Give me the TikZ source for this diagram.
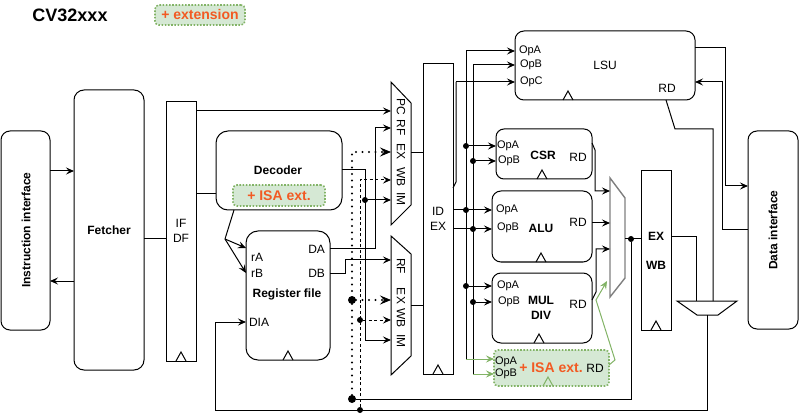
\documentclass[tikz,border=0pt]{standalone}
\usepackage{fontspec}
\setmainfont{Liberation Sans}
\usetikzlibrary{arrows.meta}
\definecolor{grn}{HTML}{82B366}
\definecolor{grnfill}{HTML}{D5E8D4}
\definecolor{org}{HTML}{F25A23}
\definecolor{gry}{HTML}{7F7F7F}
\begin{document}
\begin{tikzpicture}[x=1pt,y=-1pt,
  every node/.style={inner sep=0pt, outer sep=0pt},
  blk/.style={draw, line width=1pt, rounded corners=#1, anchor=north west},
  blk/.default=9pt,
  reg/.style={draw, line width=1pt, anchor=north west},
  extbox/.style={draw=grn, fill=grnfill, line width=1.6pt, dash pattern=on 1.6pt off 1.6pt, rounded corners=4pt, anchor=north west, text=org, font=\bfseries\fontsize{14}{16}\selectfont},
  lbl/.style={font=\fontsize{11}{13}\selectfont},
  lblm/.style={font=\fontsize{12}{15}\selectfont},
  blbl/.style={font=\bfseries\fontsize{12}{15}\selectfont},
  mlbl/.style={font=\fontsize{12}{14}\selectfont, rotate=-90},
  wire/.style={line width=1pt},
  arr/.style={wire, -{Stealth[length=8pt,width=7pt,inset=3pt]}},
  garr/.style={arr, draw=grn},
  bigarr/.style={-{Stealth[length=11pt,width=9pt,inset=4pt,line width=0.8pt]}},
  dotl/.style={line width=2.2pt, line cap=round, dash pattern=on 0pt off 6.5pt},
  dashl/.style={wire, dash pattern=on 3pt off 2.5pt},
  jd/.style={circle, fill, minimum size=6pt},
  bjd/.style={circle, fill, minimum size=8pt}
]
\useasboundingbox (0,0) rectangle (799,419);

% title and legend
\node[font=\bfseries\fontsize{18}{20}\selectfont] (title) at (70,15) {CV32xxx};
\node[extbox, minimum width=90pt, minimum height=20pt] (legend) at (155,5) {+ extension};

% front end
\node[blk=9pt, minimum width=49pt, minimum height=199pt] (inst) at (1,131) {};
\node[blbl, rotate=90] (instT) at (26,230) {Instruction interface};
\node[blk=10pt, minimum width=70pt, minimum height=280pt, blbl] (fetch) at (74,90) {Fetcher};
\node[reg, minimum width=30pt, minimum height=259pt] (ifdf) at (166,102) {};
\node[lblm, align=center] (ifdfT) at (181,231) {IF\\DF};

% decoder
\node[blk=12pt, minimum width=126pt, minimum height=79pt] (dec) at (216,131) {};
\node[blbl] (decT) at (278,170) {Decoder};
\node[extbox, minimum width=92pt, minimum height=21pt] (decisa) at (233,185) {+ ISA ext.};

% register file
\node[blk=12pt, minimum width=84pt, minimum height=129pt] (rf) at (246,231) {};
\node[lblm, anchor=west] (rA) at (251,257) {rA};
\node[lblm, anchor=west] (rB) at (251,273) {rB};
\node[lblm, anchor=east] (DA) at (325,249) {DA};
\node[lblm, anchor=east] (DB) at (325,273) {DB};
\node[blbl] (rfT) at (287,294) {Register file};
\node[lblm, anchor=west] (DIA) at (249,322) {DIA};

% ID muxes
\draw[wire] (391,82) -- (411,103) -- (411,205) -- (391,225) -- cycle;
\coordinate (m1pc) at (391,111);
\coordinate (m1rf) at (391,128);
\coordinate (m1ex) at (391,152);
\coordinate (m1wb) at (391,180);
\coordinate (m1im) at (391,200);
\coordinate (m1o) at (411,153);
\node[mlbl] (m1l1) at (401,107) {PC};
\node[mlbl] (m1l2) at (401,128) {RF};
\node[mlbl] (m1l3) at (401,152) {EX};
\node[mlbl] (m1l4) at (401,177) {WB};
\node[mlbl] (m1l5) at (401,199) {IM};

\draw[wire] (391,236) -- (411,254) -- (411,356) -- (391,375) -- cycle;
\coordinate (m2rf) at (391,260);
\coordinate (m2ex) at (391,300);
\coordinate (m2wb) at (391,320);
\coordinate (m2im) at (391,340);
\coordinate (m2o) at (411,305);
\node[mlbl] (m2l1) at (401,266) {RF};
\node[mlbl] (m2l2) at (401,296) {EX};
\node[mlbl] (m2l3) at (401,318) {WB};
\node[mlbl] (m2l4) at (401,341) {IM};

% ID/EX register
\node[reg, minimum width=30pt, minimum height=310pt] (idex) at (423,64) {};
\node[lblm, align=center] (idexT) at (438,219) {ID\\EX};

% LSU
\node[blk=9pt, minimum width=180pt, minimum height=69pt] (lsu) at (515,31) {};
\node[lbl, anchor=west] (lsuA) at (519,51) {OpA};
\node[lbl, anchor=west] (lsuB) at (520,65) {OpB};
\node[lbl, anchor=west] (lsuC) at (520,82) {OpC};
\node[lblm] (lsuT) at (605,65) {LSU};
\node[lblm] (lsuRD) at (667,88) {RD};

% CSR
\node[blk=8pt, minimum width=96pt, minimum height=50pt] (csr) at (496,129) {};
\node[lbl, anchor=west] (csrA) at (497,146) {OpA};
\node[lbl, anchor=west] (csrB) at (498,161) {OpB};
\node[blbl] (csrT) at (543,155) {CSR};
\node[lblm] (csrRD) at (578,157) {RD};

% ALU
\node[blk=9pt, minimum width=100pt, minimum height=71pt] (alu) at (492,191) {};
\node[lbl, anchor=west] (aluA) at (496,210) {OpA};
\node[lbl, anchor=west] (aluB) at (497,228) {OpB};
\node[blbl] (aluT) at (541,228) {ALU};
\node[lblm] (aluRD) at (578,222) {RD};

% MUL/DIV
\node[blk=9pt, minimum width=100pt, minimum height=70pt] (mul) at (492,273) {};
\node[lbl, anchor=west] (mulA) at (497,286) {OpA};
\node[lbl, anchor=west] (mulB) at (498,302) {OpB};
\node[blbl, align=center] (mulT) at (541,308) {MUL\\DIV};
\node[lblm] (mulRD) at (578,304) {RD};

% ISA ext unit
\node[extbox, minimum width=115pt, minimum height=36pt] (isa) at (494,350) {};
\node[lbl, anchor=west] (isaA) at (495,362) {OpA};
\node[lbl, anchor=west] (isaB) at (495,374) {OpB};
\node[extbox, draw=none, fill=none, anchor=center] (isaT) at (551,368) {+ ISA ext.};
\node[lblm] (isaRD) at (595,368) {RD};

% result mux
\draw[draw=gry, line width=1.4pt] (610,178) -- (625,198) -- (625,278) -- (610,297) -- cycle;
\coordinate (am1) at (610,191);
\coordinate (am2) at (610,223);
\coordinate (am3) at (610,249);
\coordinate (am4) at (607,281);
\coordinate (amo) at (625,239);

% EX/WB register
\node[reg, minimum width=30pt, minimum height=159pt] (exwb) at (641,171) {};
\node[blbl] (exwbT1) at (656,236) {EX};
\node[blbl] (exwbT2) at (656,265) {WB};

% WB mux
\draw[wire] (677,301) -- (737,301) -- (718,315) -- (697,315) -- cycle;
\coordinate (wm1) at (696,301);
\coordinate (wm2) at (713,301);
\coordinate (wmo) at (707,315);

% data interface
\node[blk=9pt, minimum width=50pt, minimum height=198pt] (dif) at (748,131) {};
\node[blbl, rotate=90] (difT) at (773,230) {Data interface};

% clock triangles
\foreach \cx/\cy in {181/361, 288/360, 438/374, 568/100, 542/179, 541/262, 539/343, 656/330}
  \draw[wire] (\cx-5,\cy) -- (\cx,\cy-9) -- (\cx+5,\cy);
\draw[wire, draw=grn] (543,386) -- (548,377) -- (553,386);

% ---- connectors ----
\draw[arr] (inst.east |- 0,171) -- (fetch.west |- 0,171);
\draw[arr] (fetch.west |- 0,281) -- (inst.east |- 0,281);
\draw[wire] (fetch.east |- 0,239) -- (ifdf.west |- 0,239);
\draw[arr] (ifdf.east |- 0,111) -- (m1pc);
\draw[wire] (ifdf.east |- 0,194) -- (dec.west |- 0,194);

% decoder to register file
\coordinate (dsplit) at (225,239);
\draw[wire] (234,210) -- (dsplit);
\draw[arr] (dsplit) -- (rf.west |- 0,248);
\draw[arr] (dsplit) -- (rf.west |- 0,273);

% decoder to muxes
\node[jd] (jdec) at (365,200) {};
\draw[arr] (dec.east |- 0,170) -- (365,170) -- (365,340) -- (m2im);
\draw[arr] (jdec) -- (m1im);

% register file outputs
\draw[arr] (rf.east |- 0,249) -- (375,249) -- (375,128) -- (m1rf);
\draw[arr] (rf.east |- 0,273) -- (345,273) -- (345,260) -- (m2rf);

% forwarding (dotted)
\node[bjd] (jd300) at (352,300) {};
\node[bjd] (jd399) at (352,399) {};
\draw[dotl, bigarr] (jd399) -- (352,152) -- (m1ex);
\draw[dotl, bigarr] (jd300) -- (m2ex);

% write-back (dashed)
\node[jd] (jd320) at (360,320) {};
\node[jd] (jd410) at (360,410) {};
\draw[dashl, arr] (jd410) -- (360,180) -- (m1wb);
\draw[dashl, arr] (jd320) -- (m2wb);

% mux outputs to ID/EX
\draw[wire] (m1o) -- (idex.west |- m1o);
\draw[wire] (m2o) -- (idex.west |- m2o);

% operand buses
\draw[wire] (idex.east |- 0,210) -- (466,210);
\draw[wire] (idex.east |- 0,229) -- (473,229);
\draw[wire] (idex.east |- 0,188) -- (456,182) -- (456,82);
\draw[arr] (456,82) -- (lsu.west |- 0,82);
\draw[wire] (466,51) -- (466,359);
\draw[wire] (473,65) -- (473,374);
\draw[arr] (466,51) -- (lsu.west |- 0,51);
\draw[arr] (473,65) -- (lsu.west |- 0,65);
\node[jd] (ja1) at (466,146) {};
\node[jd] (jb1) at (473,161) {};
\node[jd] (ja2) at (466,210) {};
\node[jd] (jb2) at (473,229) {};
\node[jd] (ja3) at (466,286) {};
\node[jd] (jb3) at (473,302) {};
\draw[arr] (ja1) -- (csr.west |- ja1);
\draw[arr] (jb1) -- (csr.west |- jb1);
\draw[arr] (ja2) -- (alu.west |- ja2);
\draw[arr] (jb2) -- (alu.west |- jb2);
\draw[arr] (ja3) -- (mul.west |- ja3);
\draw[arr] (jb3) -- (mul.west |- jb3);
\draw[garr] (466,359) -- (isa.west |- 0,359);
\draw[garr] (473,374) -- (isa.west |- 0,374);

% unit results to result mux
\draw[arr] (csr.east |- 0,143) -- (595,150) -- (595,191) -- (am1);
\draw[arr] (alu.east |- 0,223) -- (am2);
\draw[arr] (mul.east |- 0,300) -- (596,292) -- (596,249) -- (am3);
\draw[garr] (isa.east |- 0,365) -- (615,360) -- (596,300) -- (am4);

% result mux to EX/WB
\node[jd] (jalu) at (631,239) {};
\draw[wire] (amo) -- (exwb.west |- amo);
\draw[wire] (jalu) -- (631,399) -- (jd399);

% LSU <-> data interface
\draw[arr] (lsu.east |- 0,48) -- (725,48) -- (725,186) -- (dif.west |- 0,186);
\draw[arr] (dif.west |- 0,230) -- (722,230) -- (722,82) -- (lsu.east |- 0,82);

% write-back mux
\draw[wire] (666,100) -- (675,129) -- (713,129) -- (wm2);
\draw[wire] (exwb.east |- 0,237) -- (696,237) -- (wm1);
\draw[arr] (wmo) -- (707,410) -- (215,410) -- (215,322) -- (rf.west |- 0,322);

\end{tikzpicture}
\end{document}
